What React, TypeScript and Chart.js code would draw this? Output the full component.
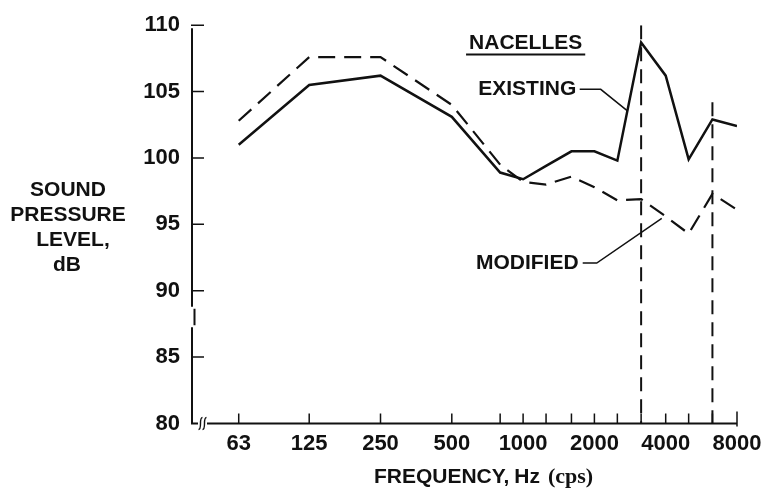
import React, { useEffect, useRef } from 'react';
import { Chart, registerables } from 'chart.js';

Chart.register(...registerables);

// One-third-octave band centres where the levels were measured (Hz)
const BAND_FREQS = [63, 125, 250, 500, 800, 1000, 1250, 1600, 2000, 2500, 3150, 4000, 5000, 6300, 8000];
// Bands that carry a printed label on the frequency axis
const LABELED_FREQS = [63, 125, 250, 500, 1000, 2000, 4000, 8000];
// Sound pressure level per band, dB
const EXISTING_DB = [101.0, 105.5, 106.2, 103.1, 98.9, 98.4, 99.4, 100.5, 100.5, 99.8, 108.7, 106.2, 99.9, 102.9, 102.4];
const MODIFIED_DB = [102.8, 107.6, 107.6, 104.0, 99.5, 98.2, 98.0, 98.6, 97.8, 96.8, 96.9, 95.6, 94.3, 97.3, 96.1];
// Level axis ticks, dB
const DB_TICKS = [80, 85, 90, 95, 100, 105, 110];
// Tone markers: vertical dashed lines from the given level down to the axis
const MARKER_FREQS = [3150, 6300];
const MARKER_TOPS = [110, 104.2];

const INK = '#111111';
const SANS = '"Liberation Sans", Arial, Helvetica, sans-serif';
const SERIF = '"Liberation Serif", "Times New Roman", serif';

// Callout anchors in (Hz, dB)
const NACELLES_AT = { f: 1025, db: 108.63 };
const EXISTING_AT = { f: 1041, db: 105.18 };
const MODIFIED_AT = { f: 1041, db: 92.11 };
const EXISTING_LEADER = [
  { f: 1734, db: 105.17 },
  { f: 2127, db: 105.17 },
  { f: 2766, db: 103.53 },
];
const MODIFIED_LEADER = [
  { f: 1785, db: 92.08 },
  { f: 2046, db: 92.08 },
  { f: 3849, db: 95.45 },
];
// Extent of the break drawn in the level axis, dB
const Y_BREAK = { hi: 88.8, lo: 87.25 };

const frame = {
  id: 'frame',
  beforeDatasetsDraw(chart: any) {
    const { ctx, chartArea: a, scales } = chart;
    const x = scales.x;
    const y = scales.y;
    ctx.save();
    ctx.strokeStyle = INK;
    ctx.lineCap = 'butt';

    // Axis lines with breaks
    const left = a.left;
    const bTop = y.getPixelForValue(Y_BREAK.hi);
    const bBot = y.getPixelForValue(Y_BREAK.lo);
    ctx.lineWidth = 2;
    ctx.beginPath();
    ctx.moveTo(left, a.top + 3);
    ctx.lineTo(left, bTop);
    ctx.moveTo(left + 2.5, bTop + 2);
    ctx.lineTo(left + 2.5, bBot - 2);
    ctx.moveTo(left, bBot);
    ctx.lineTo(left, a.bottom);
    ctx.lineTo(left + 6, a.bottom);
    ctx.moveTo(left + 15, a.bottom);
    ctx.lineTo(a.right, a.bottom);
    ctx.stroke();

    // Broken-axis squiggles on the frequency axis
    ctx.lineWidth = 1.4;
    for (const cx of [left + 8.5, left + 12.5]) {
      ctx.beginPath();
      ctx.moveTo(cx + 2, a.bottom - 6);
      ctx.bezierCurveTo(cx - 2, a.bottom - 6, cx + 2, a.bottom + 6, cx - 2, a.bottom + 6);
      ctx.stroke();
    }

    // Inward tick marks
    ctx.lineWidth = 1.5;
    ctx.beginPath();
    for (const v of DB_TICKS) {
      if (v === 80) continue;
      const py = y.getPixelForValue(v);
      ctx.moveTo(left - 1, py);
      ctx.lineTo(left + 12, py);
    }
    BAND_FREQS.forEach((f, i) => {
      const px = x.getPixelForValue(f);
      const last = i === BAND_FREQS.length - 1;
      ctx.moveTo(px, a.bottom + (last ? 3 : 0));
      ctx.lineTo(px, a.bottom - (last ? 12 : 10));
    });
    ctx.stroke();
    ctx.restore();
  },
  afterDraw(chart: any) {
    const { ctx, chartArea: a, scales } = chart;
    const x = scales.x;
    const y = scales.y;
    const P = (p: { f: number; db: number }) => [x.getPixelForValue(p.f), y.getPixelForValue(p.db)];
    ctx.save();
    ctx.fillStyle = INK;
    ctx.strokeStyle = INK;
    ctx.textBaseline = 'middle';
    ctx.textAlign = 'center';
    const bold = (s: number, fam = SANS) => `bold ${s}px ${fam}`;

    // Level axis title
    ctx.font = bold(21);
    ctx.fillText('SOUND', 68, 190);
    ctx.fillText('PRESSURE', 68, 215.5);
    ctx.fillText('LEVEL,', 73, 240.5);
    ctx.fillText('dB', 67, 265.5);

    // Frequency axis title (mixed faces)
    const parts = [
      { t: 'FREQUENCY,', font: bold(21), gap: 5 },
      { t: 'Hz', font: bold(21), gap: 8 },
      { t: '(cps)', font: bold(22, SERIF), gap: 0 },
    ];
    let total = 0;
    for (const p of parts) {
      ctx.font = p.font;
      total += ctx.measureText(p.t).width + p.gap;
    }
    let tx = (a.left + a.right) / 2 + 19 - total / 2;
    ctx.textAlign = 'left';
    for (const p of parts) {
      ctx.font = p.font;
      ctx.fillText(p.t, tx, 477);
      tx += ctx.measureText(p.t).width + p.gap;
    }

    // Callouts
    ctx.textAlign = 'center';
    ctx.font = bold(21);
    const [nx, ny] = P(NACELLES_AT);
    ctx.fillText('NACELLES', nx, ny);
    const nw = ctx.measureText('NACELLES').width;
    ctx.lineWidth = 2;
    ctx.beginPath();
    ctx.moveTo(nx - nw / 2 - 3, ny + 11);
    ctx.lineTo(nx + nw / 2 + 3, ny + 11);
    ctx.stroke();

    const [ex, ey] = P(EXISTING_AT);
    ctx.fillText('EXISTING', ex, ey);
    const [mx, my] = P(MODIFIED_AT);
    ctx.fillText('MODIFIED', mx, my);

    ctx.lineWidth = 1.5;
    for (const leader of [EXISTING_LEADER, MODIFIED_LEADER]) {
      ctx.beginPath();
      leader.forEach((p, i) => {
        const [px, py] = P(p);
        if (i === 0) ctx.moveTo(px, py);
        else ctx.lineTo(px, py);
      });
      ctx.stroke();
    }
    ctx.restore();
  },
};

export default function App() {
  const ref = useRef<HTMLCanvasElement | null>(null);

  useEffect(() => {
    if (!ref.current) return;
    const tickFont = { family: SANS, size: 22, weight: 'bold' as const };
    const markerSets = MARKER_FREQS.map((f, i) => ({
      label: `marker ${f}`,
      data: [
        { x: f, y: MARKER_TOPS[i] },
        { x: f, y: 80 },
      ],
      borderColor: INK,
      borderWidth: 2,
      borderDash: [14, 8],
      pointRadius: 0,
    }));
    const chart = new Chart(ref.current, {
      type: 'line',
      data: {
        datasets: [
          {
            label: 'EXISTING',
            data: BAND_FREQS.map((f, i) => ({ x: f, y: EXISTING_DB[i] })),
            borderColor: INK,
            borderWidth: 2.5,
            pointRadius: 0,
          },
          {
            label: 'MODIFIED',
            data: BAND_FREQS.map((f, i) => ({ x: f, y: MODIFIED_DB[i] })),
            borderColor: INK,
            borderWidth: 2.2,
            borderDash: [17, 9],
            pointRadius: 0,
          },
          ...markerSets,
        ],
      },
      options: {
        responsive: false,
        animation: false,
        layout: { padding: { top: 15, right: 32, left: 0, bottom: 0 } },
        plugins: { legend: { display: false }, tooltip: { enabled: false } },
        elements: { line: { tension: 0 } },
        scales: {
          x: {
            type: 'logarithmic',
            min: 40,
            max: 8000,
            grid: { display: false, drawTicks: false },
            border: { display: false },
            afterBuildTicks: (s: any) => {
              s.ticks = BAND_FREQS.map((v) => ({ value: v }));
            },
            afterFit: (s: any) => {
              s.height = 68.5;
            },
            ticks: {
              autoSkip: false,
              maxRotation: 0,
              padding: 7,
              color: INK,
              font: tickFont,
              callback: (v: any) => (LABELED_FREQS.includes(Number(v)) ? String(v) : ''),
            },
          },
          y: {
            min: 80,
            max: 110,
            grid: { display: false, drawTicks: false },
            border: { display: false },
            afterBuildTicks: (s: any) => {
              s.ticks = DB_TICKS.map((v) => ({ value: v }));
            },
            afterFit: (s: any) => {
              s.width = 192;
            },
            ticks: {
              padding: 12,
              color: INK,
              font: tickFont,
              callback: (v: any) => String(v),
            },
          },
        },
      },
      plugins: [frame],
    });
    return () => chart.destroy();
  }, []);

  return (
    <div style={{ position: 'fixed', left: 0, top: 0, width: 769, height: 492, background: '#fff' }}>
      <canvas ref={ref} width={769} height={492} />
    </div>
  );
}
